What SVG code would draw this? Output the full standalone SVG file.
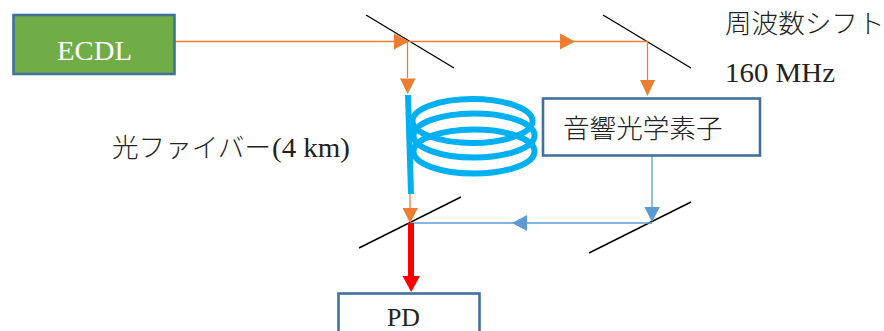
<svg xmlns="http://www.w3.org/2000/svg" width="884" height="331" viewBox="0 0 884 331">
<style>
.t{font-family:"Liberation Serif","Noto Sans CJK JP",serif;fill:#222}
.j{font-family:"Noto Sans CJK JP","Liberation Serif",serif;font-size:26.6px;font-weight:300;fill:#222}
.box{fill:#fff;stroke:#41719c;stroke-width:2.6}
.m{stroke:#000;stroke-width:1.4;fill:none}
.o{stroke:#ed7d31;stroke-width:1.3;fill:none}
.b{stroke:#5b9bd5;stroke-width:1.3;fill:none}
.fo{fill:#ed7d31}
.fb{fill:#5b9bd5}
.f{fill:none;stroke:#00b0f0;stroke-width:6}
</style>
<g id="mirrors">
<line class="m" x1="366" y1="15" x2="454" y2="68"/>
<line class="m" x1="603" y1="15" x2="691" y2="68"/>
<line class="m" x1="359" y1="248" x2="461" y2="197"/>
<line class="m" x1="589" y1="253" x2="691" y2="202"/>
</g>
<g id="connectors">
<path class="o" d="M175 41.5H647.5V80"/>
<path class="o" d="M407.5 41.500V78"/>
<path class="o" d="M410 194V208"/>
<path class="b" d="M652 155V207"/>
<path class="b" d="M652 223H410"/>
<polygon class="fo" points="394,33.500 409,41.500 394,49.500"/>
<polygon class="fo" points="560,33.500 575,41.500 560,49.500"/>
<polygon class="fo" points="400,78.500 415.500,78.500 407.700,94"/>
<polygon class="fo" points="640,80 655,80 647.500,96"/>
<polygon class="fo" points="402.500,208 418,208 410,223"/>
<polygon class="fb" points="644.500,207 660,207 652,222"/>
<polygon class="fb" points="527,215 527,231 512,223"/>
<line x1="411" y1="223" x2="411" y2="277" stroke="#f00" stroke-width="6"/>
<polygon fill="#f00" points="402.500,276 420,276 411.200,292"/>
</g>
<g id="fiber">
<ellipse class="f" cx="472.500" cy="121" rx="60" ry="22"/>
<ellipse class="f" cx="474" cy="135.500" rx="60.500" ry="22"/>
<ellipse class="f" cx="474" cy="151.500" rx="60.500" ry="22"/>
<line x1="408" y1="95" x2="411" y2="194" stroke="#00b0f0" stroke-width="6"/>
</g>
<g id="ecdl">
<rect x="13.500" y="15" width="161" height="59" fill="#70ad47" stroke="#41719c" stroke-width="2.600"/>
<text class="t" x="57" y="60" font-size="27" textLength="75" lengthAdjust="spacingAndGlyphs" style="fill:#fff">ECDL</text>
</g>
<g id="aom">
<rect class="box" x="543" y="98.500" width="217" height="57"/>
<text class="j" x="563" y="138">音響光学素子</text>
</g>
<g id="pd">
<rect class="box" x="338.500" y="293.500" width="141" height="50"/>
<text class="t" x="387" y="325.500" font-size="25" textLength="33" lengthAdjust="spacingAndGlyphs">PD</text>
</g>
<g id="labels">
<text class="j" x="725" y="33">周波数シフト</text>
<text class="t" x="725" y="82" font-size="28" textLength="110" lengthAdjust="spacingAndGlyphs">160 MHz</text>
<text class="j" x="112" y="157">光ファイバー</text>
<text class="t" x="272" y="157" font-size="28" textLength="78" lengthAdjust="spacingAndGlyphs">(4 km)</text>
</g>
</svg>
